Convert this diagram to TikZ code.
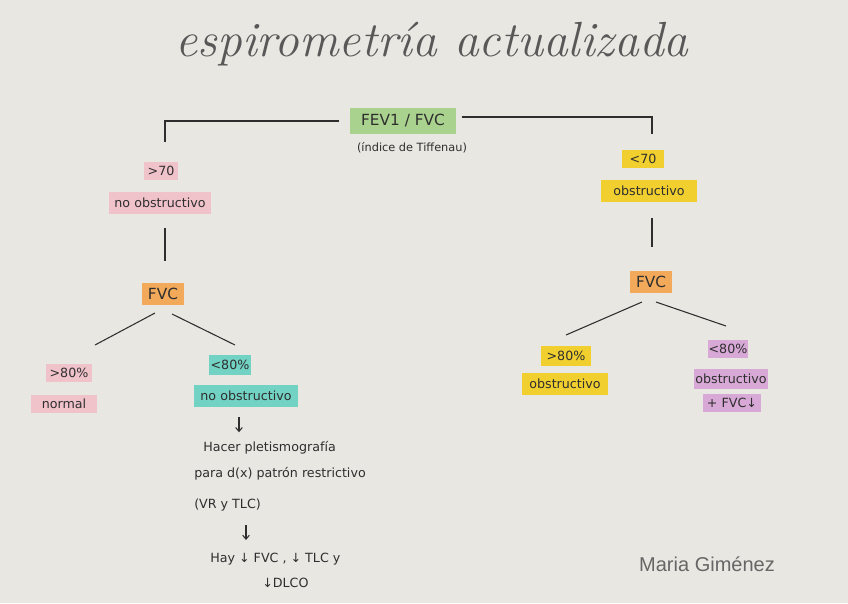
\documentclass[tikz,border=0pt]{standalone}
\usepackage{fontspec}
\newfontfamily\hand{DejaVu Sans}
\newfontfamily\sig{Liberation Sans}
\usetikzlibrary{calc,arrows.meta}
\definecolor{paper}{HTML}{E9E7E2}
\definecolor{ink}{HTML}{2E2E2E}
\definecolor{pinkc}{HTML}{F0C3CB}
\definecolor{greenc}{HTML}{A9D28E}
\definecolor{yellowc}{HTML}{F1CF2E}
\definecolor{orangec}{HTML}{F3A95A}
\definecolor{tealc}{HTML}{72D2C3}
\definecolor{purplec}{HTML}{D8A9D7}
\tikzset{
  tag/.style={inner sep=0pt, text=ink, font=\hand\fontsize{9.5}{10}\selectfont},
  note/.style={inner sep=0pt, anchor=west, text=ink, font=\hand\fontsize{9.5}{10}\selectfont},
  link/.style={draw=ink, line width=0.8pt},
  flow/.style={draw=ink, line width=0.8pt, -{Straight Barb[length=3pt,width=5pt]}}
}
\begin{document}
\begin{tikzpicture}[x=0.75pt,y=-0.75pt]
\fill[paper] (0,0) rectangle (848,603);
\useasboundingbox (0,0) rectangle (848,603);

\node[text=ink!80, font=\fontsize{37}{42}\itshape\selectfont] (title) at (432,44) {espirometría actualizada};

\node[tag, fill=greenc, minimum width=80pt, minimum height=19pt, font=\hand\fontsize{11.5}{12}\selectfont] (fev) at (403,121) {FEV1 / FVC};
\node[tag, font=\hand\fontsize{8.5}{9}\selectfont] (tif) at (412,148) {(índice de Tiffenau)};

% left branch
\node[tag, fill=pinkc, minimum width=25pt, minimum height=14pt] (gt70) at (161,171) {>70};
\node[tag, fill=pinkc, minimum width=77pt, minimum height=16pt] (noobL) at (160,203) {no obstructivo};
\node[tag, fill=orangec, minimum width=32pt, minimum height=16pt, font=\hand\fontsize{11.5}{12}\selectfont] (fvcL) at (163,294) {FVC};
\node[tag, fill=pinkc, minimum width=35pt, minimum height=14pt] (gt80L) at (69,373) {>80\%};
\node[tag, fill=pinkc, minimum width=49pt, minimum height=14pt] (normal) at (64,404) {normal};
\node[tag, fill=tealc, minimum width=31pt, minimum height=15pt] (lt80L) at (230,365) {<80\%};
\node[tag, fill=tealc, minimum width=78pt, minimum height=16.5pt] (noobT) at (246,396) {no obstructivo};

\node[note] (hacer) at (203,448) {Hacer pletismografía};
\node[note] (para) at (194,474) {para d(x) patrón restrictivo};
\node[note] (vr) at (194,505) {(VR y TLC)};
\node[note] (hay) at (210,559) {Hay ↓ FVC , ↓ TLC y};
\node[note] (dlco) at (262,583) {↓DLCO};

% right branch
\node[tag, fill=yellowc, minimum width=31.5pt, minimum height=14pt] (lt70) at (643,159) {<70};
\node[tag, fill=yellowc, minimum width=72pt, minimum height=16pt] (obsR) at (649,191) {obstructivo};
\node[tag, fill=orangec, minimum width=31pt, minimum height=16pt, font=\hand\fontsize{11.5}{12}\selectfont] (fvcR) at (651,282) {FVC};
\node[tag, fill=yellowc, minimum width=38pt, minimum height=15pt] (gt80R) at (566,356) {>80\%};
\node[tag, fill=yellowc, minimum width=64pt, minimum height=16.5pt] (obsY) at (565,384) {obstructivo};
\node[tag, fill=purplec, minimum width=30pt, minimum height=14pt] (lt80R) at (728,349) {<80\%};
\node[tag, fill=purplec, minimum width=56pt, minimum height=15pt] (obsP) at (731,379) {obstructivo};
\node[tag, fill=purplec, minimum width=43pt, minimum height=14pt] (fvcdown) at (732,403) {+ FVC↓};

\node[text=black!60, font=\sig\fontsize{15}{17}\selectfont] (sig) at (707,564) {Maria Giménez};

% connectors
\draw[link] ($(fev.west)+(-10,0)$) -| ($(gt70.north)+(4,-19)$);
\draw[link] ($(fev.east)+(5,-4)$) -| ($(lt70.north)+(9,-15)$);
\draw[link] ($(noobL.south)+(5,14)$) -- ($(fvcL.north)+(2,-22)$);
\draw[link] ($(obsR.south)+(3,16)$) -- ($(fvcR.north)+(1,-24)$);
\draw[link] ($(fvcL)+(-8,19)$) -- ($(gt80L)+(26,-28)$);
\draw[link] ($(fvcL)+(9,20)$) -- ($(lt80L)+(5,-20)$);
\draw[link] ($(fvcR)+(-9,20)$) -- ($(gt80R)+(0,-21)$);
\draw[link] ($(fvcR)+(5,20)$) -- ($(lt80R)+(-2,-23)$);
\draw[flow] ($(noobT.south)+(-7,10)$) -- ($(noobT.south)+(-7,25)$);
\draw[flow] ($(vr.west)+(52,20)$) -- ($(vr.west)+(52,35)$);
\end{tikzpicture}
\end{document}
